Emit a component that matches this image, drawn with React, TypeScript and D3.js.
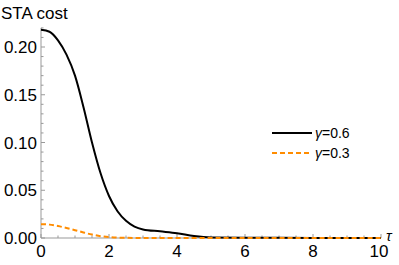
import React from "react";
import * as d3 from "d3";

const tauBlack = [0, 0.25, 0.5, 0.75, 1.0, 1.25, 1.5, 1.75, 2.0, 2.25, 2.5, 2.75, 3.0, 3.5, 4.0, 4.5, 5.0, 6.0, 8.0, 10.0];
const costBlack = [0.218, 0.216, 0.207, 0.192, 0.170, 0.137, 0.100, 0.068, 0.044, 0.028, 0.018, 0.012, 0.009, 0.007, 0.005, 0.002, 0.0005, 0.0002, 0.0001, 0.0];
const tauOrange = [0, 0.25, 0.5, 0.75, 1.0, 1.25, 1.5, 1.75, 2.0, 2.5, 3.0, 5.0, 10.0];
const costOrange = [0.0145, 0.014, 0.0125, 0.0105, 0.0082, 0.0058, 0.0036, 0.0019, 0.0009, 0.0002, 0.0, 0.0, 0.0];
const xTicks = [0, 2, 4, 6, 8, 10];
const yTicks = [0, 0.05, 0.1, 0.15, 0.2];
const legendLabels = ["0.6", "0.3"];

export default function App() {
  const W = 399, H = 265;
  const x = d3.scaleLinear().domain([0, 10]).range([41, 381]);
  const y = d3.scaleLinear().domain([0, 0.2]).range([238, 47]);
  const line = d3.line<[number, number]>().x(d => x(d[0])).y(d => y(d[1])).curve(d3.curveMonotoneX);
  const black = tauBlack.map((t, i) => [t, costBlack[i]] as [number, number]);
  const orange = tauOrange.map((t, i) => [t, costOrange[i]] as [number, number]);
  const axisColor = "#999";
  const font = "Liberation Sans, Arial, sans-serif";
  const xMinor = d3.range(0, 10.001, 0.5).filter(v => !xTicks.some(t => Math.abs(t - v) < 1e-6));
  const yMinor = d3.range(0, 0.2201, 0.01).filter(v => !yTicks.some(t => Math.abs(t - v) < 1e-6));
  return (
    <svg width={W} height={H} style={{ position: "absolute", left: 0, top: 0 }} fontFamily={font}>
      <rect width={W} height={H} fill="white" />
      <line x1={x(0)} x2={x(10)} y1={y(0)} y2={y(0)} stroke={axisColor} strokeWidth={1} />
      <line x1={x(0)} x2={x(0)} y1={y(0)} y2={y(0.22)} stroke={axisColor} strokeWidth={1} />
      {xTicks.map(t => (
        <g key={"xt" + t}>
          <line x1={x(t)} x2={x(t)} y1={y(0)} y2={y(0) - 4} stroke={axisColor} />
          <text x={x(t) - (t === 10 ? 2 : 0)} y={y(0) + 19} fontSize={17} textAnchor="middle" fill="#000">{t}</text>
        </g>
      ))}
      {xMinor.map(t => (
        <line key={"xm" + t} x1={x(t)} x2={x(t)} y1={y(0)} y2={y(0) - 2.5} stroke={axisColor} />
      ))}
      {yTicks.map(t => (
        <g key={"yt" + t}>
          <line x1={x(0)} x2={x(0) + 4} y1={y(t)} y2={y(t)} stroke={axisColor} />
          <text x={x(0) - 4} y={y(t) + 6} fontSize={17} textAnchor="end" fill="#000">{d3.format(".2f")(t)}</text>
        </g>
      ))}
      {yMinor.map(t => (
        <line key={"ym" + t} x1={x(0)} x2={x(0) + 2.5} y1={y(t)} y2={y(t)} stroke={axisColor} />
      ))}
      <text x={1} y={19} fontSize={17} fill="#000">STA cost</text>
      <text x={386} y={241} fontSize={15} fontStyle="italic" fill="#000">τ</text>
      <path d={line(black) || ""} fill="none" stroke="#000" strokeWidth={2} />
      <path d={line(orange) || ""} fill="none" stroke="#FF8C00" strokeWidth={2} strokeDasharray="5,3" />
      <line x1={272} x2={312} y1={133} y2={133} stroke="#000" strokeWidth={2} />
      <text x={315} y={138} fontSize={14} fill="#000"><tspan fontStyle="italic">γ</tspan>={legendLabels[0]}</text>
      <line x1={272} x2={312} y1={153} y2={153} stroke="#FF8C00" strokeWidth={2} strokeDasharray="5,3" />
      <text x={315} y={158} fontSize={14} fill="#000"><tspan fontStyle="italic">γ</tspan>={legendLabels[1]}</text>
    </svg>
  );
}
